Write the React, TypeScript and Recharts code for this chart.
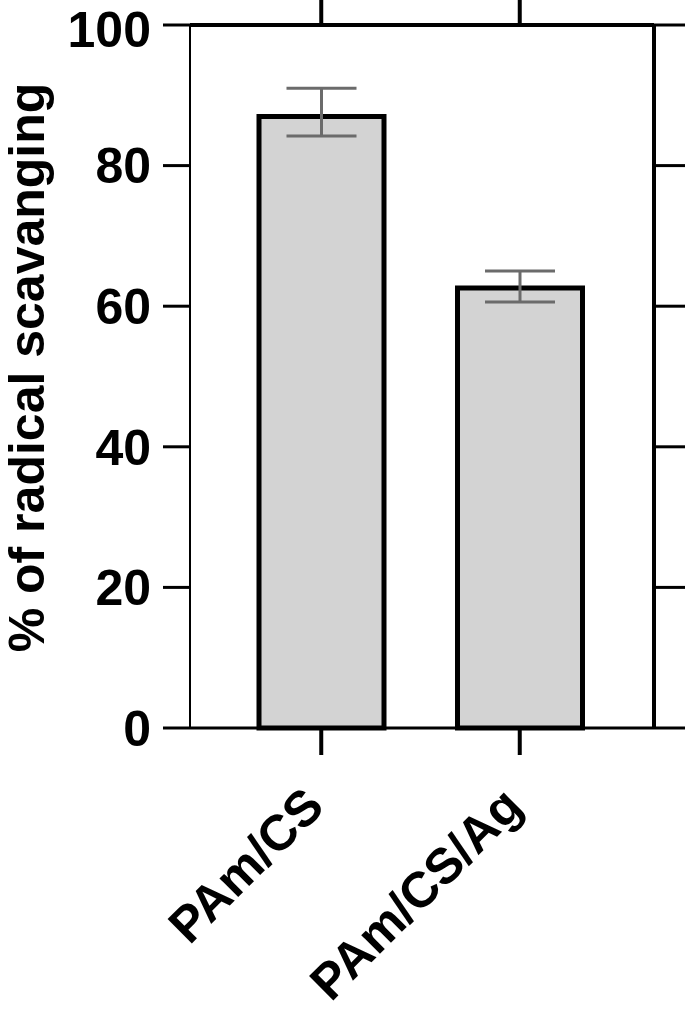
import { BarChart, Bar, XAxis, YAxis, ErrorBar } from "recharts";

const categories = ["PAm/CS", "PAm/CS/Ag"];
const scavenging = [87, 62.6];
const errLow = [2.8, 2.0];
const errHigh = [4.0, 2.4];
const yTicks = [0, 20, 40, 60, 80, 100];

const data = categories.map((name, i) => ({
  name,
  value: scavenging[i],
  err: [errLow[i], errHigh[i]],
}));

const FONT = "'Liberation Sans', Arial, Helvetica, sans-serif";

function RotatedTick({ x, y, payload }: any) {
  const ax = x + 5;
  const ay = y + 52;
  return (
    <text
      x={ax}
      y={ay}
      transform={`rotate(-45, ${ax}, ${ay})`}
      textAnchor="end"
      fontFamily={FONT}
      fontWeight="bold"
      fontSize={50}
      fill="#000"
    >
      {payload.value}
    </text>
  );
}

function YLabel({ viewBox }: any) {
  const lx = viewBox.x + 44;
  const ly = viewBox.y + viewBox.height / 2 - 9;
  return (
    <text
      x={lx}
      y={ly}
      transform={`rotate(-90, ${lx}, ${ly})`}
      textAnchor="middle"
      fontFamily={FONT}
      fontWeight="bold"
      fontSize={50}
      fill="#000"
    >
      % of radical scavanging
    </text>
  );
}

const blank = () => "";

export default function App() {
  return (
    <div style={{ position: "absolute", left: 0, top: 0, background: "#fff" }}>
      <BarChart
        width={685}
        height={1014}
        data={data}
        margin={{ top: 0, right: 0, bottom: 0, left: 0 }}
      >
        <XAxis
          dataKey="name"
          height={286}
          padding={{ left: 32, right: 35 }}
          axisLine={{ stroke: "#000", strokeWidth: 3 }}
          tickLine={{ stroke: "#000", strokeWidth: 4 }}
          tickSize={27}
          tick={<RotatedTick />}
          interval={0}
        />
        <XAxis
          xAxisId="top"
          dataKey="name"
          orientation="top"
          height={25}
          padding={{ left: 32, right: 35 }}
          axisLine={{ stroke: "#000", strokeWidth: 4 }}
          tickLine={{ stroke: "#000", strokeWidth: 4 }}
          tickSize={25}
          tickFormatter={blank}
          interval={0}
        />
        <YAxis
          width={190}
          domain={[0, 100]}
          ticks={yTicks}
          type="number"
          axisLine={{ stroke: "#000", strokeWidth: 2 }}
          tickLine={{ stroke: "#000", strokeWidth: 3 }}
          tickSize={27}
          tickMargin={12}
          tick={{ fontFamily: FONT, fontWeight: "bold", fontSize: 50, fill: "#000" }}
          label={{ content: <YLabel /> }}
        />
        <YAxis
          yAxisId="right"
          orientation="right"
          width={31}
          domain={[0, 100]}
          allowDataOverflow
          ticks={yTicks}
          interval={0}
          type="number"
          axisLine={{ stroke: "#000", strokeWidth: 4 }}
          tickLine={{ stroke: "#000", strokeWidth: 3 }}
          tickSize={31}
          tickFormatter={blank}
        />
        <Bar
          dataKey="value"
          fill="#d3d3d3"
          stroke="#000"
          strokeWidth={5}
          barSize={125}
          isAnimationActive={false}
        >
          <ErrorBar dataKey="err" direction="y" width={35} stroke="#6b6b6b" strokeWidth={3} />
        </Bar>
      </BarChart>
    </div>
  );
}
